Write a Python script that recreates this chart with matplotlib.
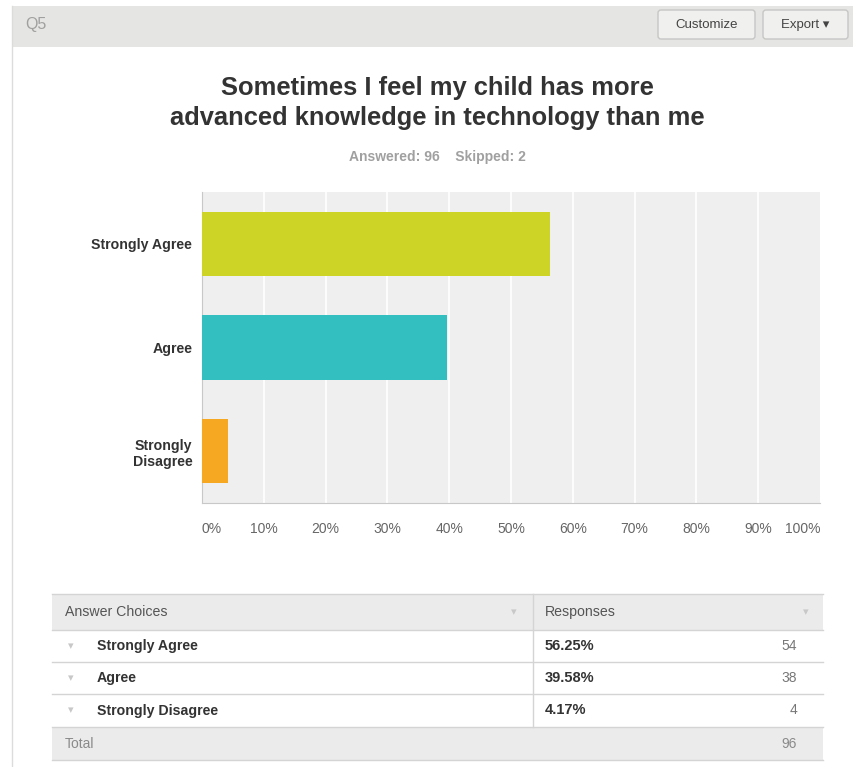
import matplotlib.pyplot as plt
from matplotlib.patches import Rectangle, FancyBboxPatch

plt.rcParams['font.family'] = ['Liberation Sans', 'DejaVu Sans']

question = "Q5"
title = "Sometimes I feel my child has more\nadvanced knowledge in technology than me"
answered = 96
skipped = 2
choices = ["Strongly Agree", "Agree", "Strongly Disagree"]
axis_labels = ["Strongly Agree", "Agree", "Strongly\nDisagree"]
percents = [56.25, 39.58, 4.17]
counts = [54, 38, 4]
colors = ["#CDD426", "#33BEBF", "#F7A823"]
xticks = [0, 10, 20, 30, 40, 50, 60, 70, 80, 90, 100]

W, H = 854, 767
fig = plt.figure(figsize=(W / 100, H / 100), dpi=100)
fig.patch.set_facecolor("white")

# overlay in pixel coords (y down)
ov = fig.add_axes([0, 0, 1, 1])
ov.set_xlim(0, W)
ov.set_ylim(H, 0)
ov.axis("off")

# card + header band
ov.add_patch(Rectangle((12, 6), W - 12, 41, facecolor="#E5E5E3", edgecolor="none"))
ov.plot([12, 12], [6, H], color="#DCDCDC", lw=1)
ov.text(25, 25, question, fontsize=11.5, color="#A0A0A0", va="center", ha="left")
for x0, w, label in [(658, 97, "Customize"), (763, 85, "Export \u25be")]:
    ov.add_patch(FancyBboxPatch((x0, 10), w, 29, boxstyle="round,pad=0,rounding_size=3",
                                facecolor="#F0F0EE", edgecolor="#C6C6C6", lw=1))
    ov.text(x0 + w / 2, 25, label, fontsize=9.5, color="#444444", ha="center", va="center",
            family=['Liberation Sans', 'DejaVu Sans'])

ov.text(437, 103, title, fontsize=18.4, fontweight="bold", color="#333333",
        ha="center", va="center", linespacing=1.32)
ov.text(437, 157, f"Answered: {answered}    Skipped: {skipped}", fontsize=10,
        fontweight="bold", color="#A0A0A0", ha="center", va="center")

# bar chart
ax = fig.add_axes([202 / W, 1 - 503 / H, 618 / W, 311 / H])
ax.set_facecolor("#EFEFEF")
ypos = list(range(len(choices)))
ax.barh(ypos, percents, height=0.62, color=colors, zorder=3)
ax.set_xlim(0, 100)
ax.set_ylim(len(choices) - 0.5, -0.5)
for t in xticks[1:-1]:
    ax.axvline(t, color="white", lw=1.2, zorder=1)
for s in ["top", "right"]:
    ax.spines[s].set_visible(False)
ax.spines["left"].set_color("#C8C8C8")
ax.spines["bottom"].set_color("#C8C8C8")
ax.set_yticks(ypos)
ax.set_yticklabels(axis_labels, fontsize=10.2, fontweight="bold", color="#333333",
                   multialignment="right")
ax.set_xticks(xticks)
ax.set_xticklabels([f"{t}%" for t in xticks], fontsize=10, color="#666666")
labs = ax.get_xticklabels()
labs[0].set_ha("left")
labs[-1].set_ha("right")
ax.tick_params(axis="y", length=0, pad=7)
ax.tick_params(axis="x", length=0, pad=14)

# table
tx0, tx1, tcol = 52, 823, 533
rows_y = [594, 630, 662, 694, 727, 760]
ov.add_patch(Rectangle((tx0, rows_y[0]), tx1 - tx0, rows_y[1] - rows_y[0],
                       facecolor="#EBEBEB", edgecolor="none"))
ov.add_patch(Rectangle((tx0, rows_y[4]), tx1 - tx0, rows_y[5] - rows_y[4],
                       facecolor="#EBEBEB", edgecolor="none"))
for yy in rows_y:
    ov.plot([tx0, tx1], [yy, yy], color="#D4D4D4", lw=1)
ov.plot([tcol, tcol], [rows_y[0], rows_y[4]], color="#D4D4D4", lw=1)

ov.text(65, 612, "Answer Choices", fontsize=10.2, color="#555555", va="center")
ov.text(545, 612, "Responses", fontsize=10.2, color="#555555", va="center")
for xa in [514, 806]:
    ov.text(xa, 612, "\u25be", fontsize=8, color="#C8C8C8", va="center", ha="center",
            family="DejaVu Sans")

for i, name in enumerate(choices):
    yc = (rows_y[i + 1] + rows_y[i + 2]) / 2
    ov.text(71, yc, "\u25be", fontsize=8, color="#C8C8C8", va="center", ha="center",
            family="DejaVu Sans")
    ov.text(97, yc, name, fontsize=10.2, fontweight="bold", color="#333333", va="center")
    ov.text(545, yc, f"{percents[i]:.2f}%", fontsize=10.5, fontweight="bold",
            color="#333333", va="center")
    ov.text(797, yc, str(counts[i]), fontsize=10, color="#777777", va="center", ha="right")

yc = (rows_y[4] + rows_y[5]) / 2
ov.text(65, yc, "Total", fontsize=10, color="#8A8A8A", va="center")
ov.text(797, yc, str(sum(counts)), fontsize=10, color="#8A8A8A", va="center", ha="right")

fig.savefig("out.png", dpi=100)
